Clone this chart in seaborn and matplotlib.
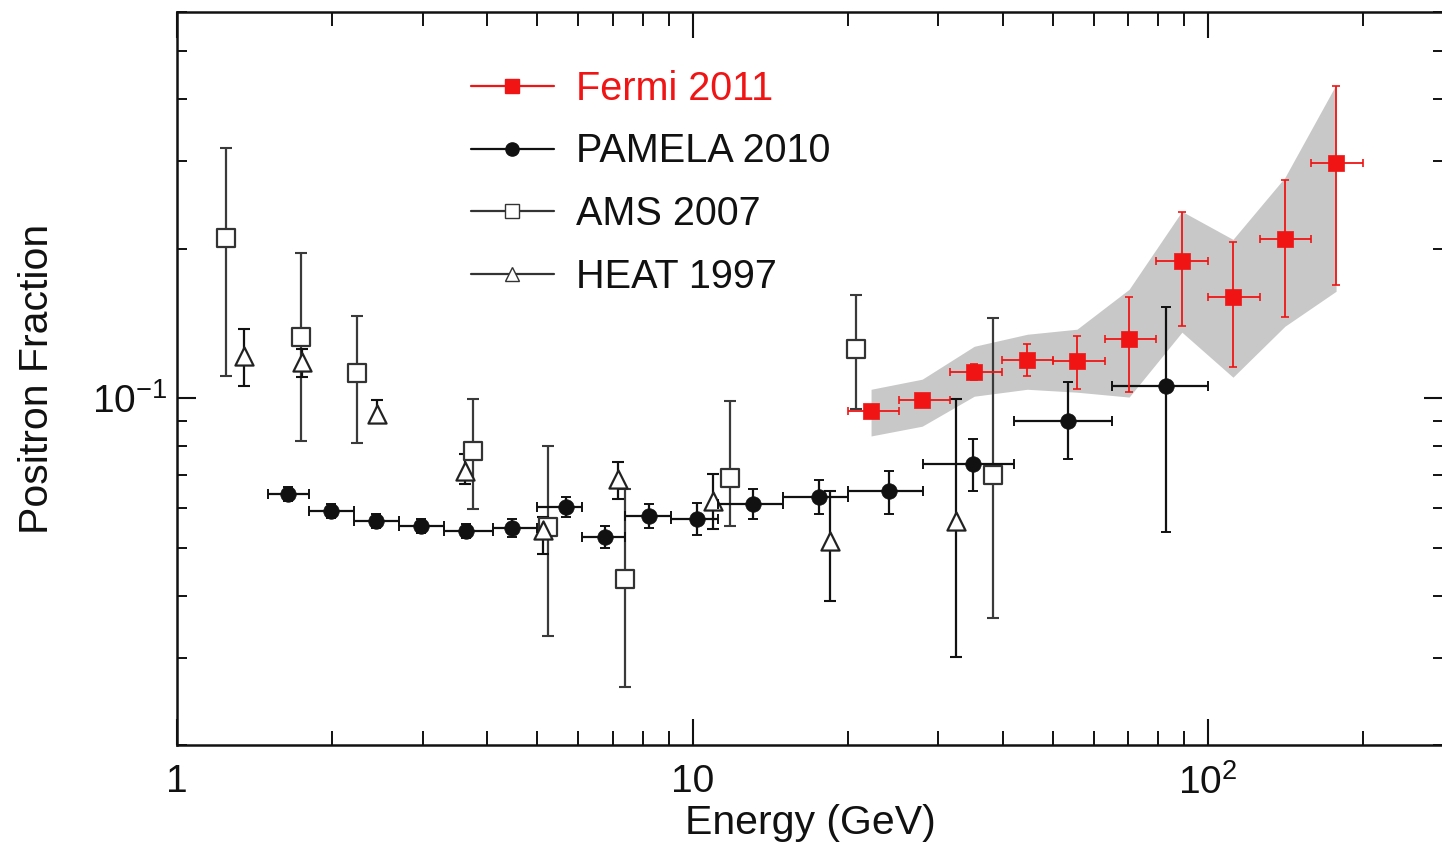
import numpy as np
import pandas as pd
import matplotlib
matplotlib.use("Agg")
import matplotlib.pyplot as plt
import seaborn as sns
from matplotlib.ticker import FixedLocator, FixedFormatter, NullFormatter
from matplotlib.lines import Line2D

# ---------------- data ----------------
# PAMELA 2010
pamela_E = [1.64, 1.99, 2.43, 2.97, 3.64, 4.47, 5.68, 6.77, 8.23, 10.2, 13.1, 17.6, 24.1, 35.0, 53.5, 82.9]
pamela_bin_lo = [1.5, 1.8, 2.2, 2.7, 3.3, 4.1, 5.0, 6.1, 7.4, 9.1, 11.2, 15.0, 20.0, 28.0, 42.0, 65.0]
pamela_bin_hi = [1.8, 2.2, 2.7, 3.3, 4.1, 5.0, 6.1, 7.4, 9.1, 11.2, 15.0, 20.0, 28.0, 42.0, 65.0, 100.0]
pamela_frac = [0.0641, 0.0592, 0.0566, 0.0553, 0.0540, 0.0548, 0.0603, 0.0525, 0.0579, 0.0571,
               0.0612, 0.0632, 0.0650, 0.0737, 0.0899, 0.1057]
pamela_lo = [0.0621, 0.0574, 0.0548, 0.0535, 0.0523, 0.0525, 0.0576, 0.0499, 0.0548, 0.0530,
             0.0571, 0.0584, 0.0584, 0.0650, 0.0754, 0.0538]
pamela_hi = [0.0662, 0.0612, 0.0584, 0.0571, 0.0558, 0.0571, 0.0632, 0.0553, 0.0612, 0.0615,
             0.0656, 0.0684, 0.0713, 0.0827, 0.1077, 0.1524]

# Fermi 2011
fermi_E = [22.2, 27.9, 35.2, 44.6, 55.7, 70.3, 89.0, 111.8, 141.0, 177.2]
fermi_bin_lo = [20.0, 25.1, 31.6, 39.8, 50.1, 63.1, 79.4, 100.0, 125.9, 158.5]
fermi_bin_hi = [25.1, 31.6, 39.8, 50.1, 63.1, 79.4, 100.0, 125.9, 158.5, 199.5]
fermi_frac = [0.0942, 0.0991, 0.1128, 0.1193, 0.1187, 0.1314, 0.1887, 0.1597, 0.2089, 0.2971]
fermi_lo = [0.0920, 0.0964, 0.1087, 0.1107, 0.1042, 0.1028, 0.1396, 0.1154, 0.1455, 0.1689]
fermi_hi = [0.0964, 0.1019, 0.1171, 0.1284, 0.1332, 0.1597, 0.2367, 0.2060, 0.2746, 0.4264]
fermi_band_lo = [0.0839, 0.0878, 0.1009, 0.1042, 0.1028, 0.1005, 0.1358, 0.1102, 0.1396, 0.1642]
fermi_band_hi = [0.1042, 0.1092, 0.1272, 0.1345, 0.1377, 0.1657, 0.2379, 0.2089, 0.2785, 0.4284]

# AMS 2007
ams_E = [1.245, 1.74, 2.235, 3.75, 5.24, 7.40, 11.8, 20.8, 38.3]
ams_frac = [0.2099, 0.1326, 0.1123, 0.0782, 0.0550, 0.0432, 0.0690, 0.1255, 0.0700]
ams_lo = [0.1107, 0.0820, 0.0812, 0.0598, 0.0332, 0.0262, 0.0553, 0.0950, 0.0361]
ams_hi = [0.3199, 0.1958, 0.1462, 0.0995, 0.0800, 0.0656, 0.0986, 0.1613, 0.1449]

# HEAT 1997
heat_E = [1.349, 1.748, 2.44, 3.62, 5.13, 7.17, 10.96, 18.5, 32.4]
heat_frac = [0.1215, 0.1181, 0.0929, 0.0713, 0.0543, 0.0687, 0.0621, 0.0516, 0.0566]
heat_lo = [0.1057, 0.1102, 0.0895, 0.0671, 0.0486, 0.0626, 0.0545, 0.0390, 0.0301]
heat_hi = [0.1377, 0.1255, 0.0991, 0.0772, 0.0576, 0.0743, 0.0703, 0.0650, 0.0995]

legend_labels = ["Fermi 2011", "PAMELA 2010", "AMS 2007", "HEAT 1997"]
x_tick_vals = [1, 10, 100]
x_tick_labels = ["1", "10", r"$\mathregular{10^{2}}$"]
y_tick_vals = [0.1]
y_tick_labels = [r"$\mathregular{10^{-1}}$"]

# ---------------- style ----------------
sns.set_theme(style="ticks")
plt.rcParams["font.family"] = ["Liberation Sans", "DejaVu Sans"]
plt.rcParams["mathtext.fontset"] = "custom"
plt.rcParams["mathtext.rm"] = "Liberation Sans"
plt.rcParams["mathtext.it"] = "Liberation Sans:italic"
plt.rcParams["mathtext.bf"] = "Liberation Sans:bold"

RED = "#f01414"
BLACK = "#111111"
GRAY_BAND = "#c8c8c8"
FS_TICK = 28
FS_LABEL = 29.5
FS_LEG = 28.5

fig = plt.figure(figsize=(14.42, 8.42), dpi=100)
ax = fig.add_axes([177 / 1442, (842 - 745) / 842, (1443 - 177) / 1442, 733 / 842])
ax.set_xscale("log")
ax.set_yscale("log")

def asym(vals, lo, hi):
    v = np.asarray(vals, float)
    return [v - np.asarray(lo, float), np.asarray(hi, float) - v]

# Fermi systematic band
ax.fill_between(fermi_E, fermi_band_lo, fermi_band_hi, color=GRAY_BAND, lw=0, zorder=1)

# AMS
ax.errorbar(ams_E, ams_frac, yerr=asym(ams_frac, ams_lo, ams_hi), fmt="none",
            ecolor="#3a3a3a", elinewidth=1.6, capsize=4, capthick=1.5, zorder=2)
df_ams = pd.DataFrame({"E": ams_E, "f": ams_frac})
sns.scatterplot(data=df_ams, x="E", y="f", ax=ax, marker="s", s=150, color="white",
                edgecolor="#333333", linewidth=1.6, zorder=3, legend=False)

# HEAT
ax.errorbar(heat_E, heat_frac, yerr=asym(heat_frac, heat_lo, heat_hi), fmt="none",
            ecolor=BLACK, elinewidth=1.6, capsize=4, capthick=1.5, zorder=2)
df_heat = pd.DataFrame({"E": heat_E, "f": heat_frac})
sns.scatterplot(data=df_heat, x="E", y="f", ax=ax, marker="^", s=170, color="white",
                edgecolor="#222222", linewidth=1.6, zorder=3, legend=False)

# PAMELA
ax.errorbar(pamela_E, pamela_frac, yerr=asym(pamela_frac, pamela_lo, pamela_hi),
            xerr=asym(pamela_E, pamela_bin_lo, pamela_bin_hi), fmt="none",
            ecolor=BLACK, elinewidth=1.6, capsize=3.5, capthick=1.4, zorder=4)
df_pam = pd.DataFrame({"E": pamela_E, "f": pamela_frac})
sns.scatterplot(data=df_pam, x="E", y="f", ax=ax, marker="o", s=125, color=BLACK,
                edgecolor=BLACK, linewidth=0.5, zorder=5, legend=False)

# Fermi
ax.errorbar(fermi_E, fermi_frac, yerr=asym(fermi_frac, fermi_lo, fermi_hi),
            xerr=asym(fermi_E, fermi_bin_lo, fermi_bin_hi), fmt="none",
            ecolor=RED, elinewidth=1.3, capsize=3, capthick=1.2, zorder=6)
df_fermi = pd.DataFrame({"E": fermi_E, "f": fermi_frac})
sns.scatterplot(data=df_fermi, x="E", y="f", ax=ax, marker="s", s=125, color=RED,
                edgecolor=RED, linewidth=0.5, zorder=7, legend=False)

# axes limits & ticks
ax.set_xlim(1, 10 ** ((1443 - 177) / 515.5))
ax.set_ylim(0.02, 0.6)
ax.xaxis.set_major_locator(FixedLocator(x_tick_vals))
ax.xaxis.set_major_formatter(FixedFormatter(x_tick_labels))
x_minor = [m * 10 ** d for d in range(0, 3) for m in range(2, 10)]
ax.xaxis.set_minor_locator(FixedLocator(x_minor))
ax.xaxis.set_minor_formatter(NullFormatter())
ax.yaxis.set_major_locator(FixedLocator(y_tick_vals))
ax.yaxis.set_major_formatter(FixedFormatter(y_tick_labels))
y_minor = [m * 0.01 for m in range(2, 10)] + [m * 0.1 for m in range(2, 7)]
ax.yaxis.set_minor_locator(FixedLocator(y_minor))
ax.yaxis.set_minor_formatter(NullFormatter())

ax.tick_params(axis="both", which="both", direction="in", top=True, right=True,
               colors=BLACK, labelsize=FS_TICK)
ax.tick_params(axis="x", which="major", length=19, width=1.5, pad=14)
ax.tick_params(axis="x", which="minor", length=10, width=1.4)
ax.tick_params(axis="y", which="major", length=14, width=1.5, pad=7)
ax.tick_params(axis="y", which="minor", length=7, width=1.4)
for sp in ax.spines.values():
    sp.set_linewidth(1.8)
    sp.set_color(BLACK)

ax.set_xlabel("Energy (GeV)", fontsize=FS_LABEL, color=BLACK, labelpad=1)
ax.set_ylabel("Positron Fraction", fontsize=FS_LABEL, color=BLACK, labelpad=26)

# legend
handles = [
    Line2D([], [], color=RED, lw=1.6, marker="s", markersize=9.5, markerfacecolor=RED, markeredgecolor=RED),
    Line2D([], [], color=BLACK, lw=1.6, marker="o", markersize=9.5, markerfacecolor=BLACK, markeredgecolor=BLACK),
    Line2D([], [], color="#333333", lw=1.6, marker="s", markersize=9.5, markerfacecolor="white", markeredgecolor="#333333"),
    Line2D([], [], color="#333333", lw=1.6, marker="^", markersize=9.5, markerfacecolor="white", markeredgecolor="#333333"),
]
ax.legend(handles, legend_labels, loc="upper left", bbox_to_anchor=(0.232, 0.921),
          frameon=False, fontsize=FS_LEG, handlelength=2.1, handletextpad=0.55,
          labelspacing=0.62, borderpad=0, borderaxespad=0,
          labelcolor=[RED, BLACK, BLACK, BLACK])

fig.savefig("out.png", dpi=100)
